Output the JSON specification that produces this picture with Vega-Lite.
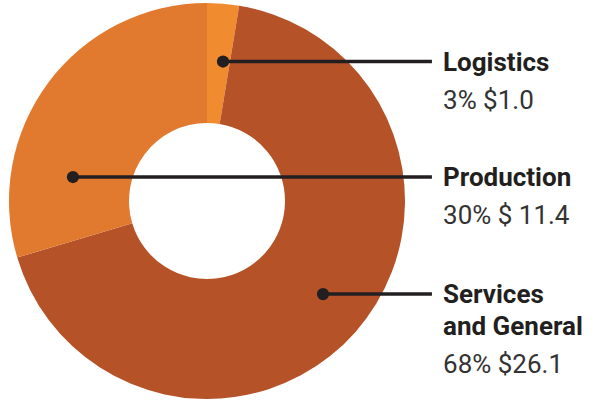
{
  "$schema": "https://vega.github.io/schema/vega-lite/v6.json",
  "width": 597,
  "height": 403,
  "autosize": {"type": "fit", "contains": "padding"},
  "padding": 0,
  "background": "white",
  "view": {"stroke": null},
  "config": {"font": "Roboto"},
  "data": {
    "values": [
      {"category": "Logistics", "name": ["Logistics"], "amount": 1.0, "label": "3% $1.0", "order": 1, "anchor_x": 0.081, "anchor_y": 0.7045},
      {"category": "Services and General", "name": ["Services", "and General"], "amount": 26.1, "label": "68% $26.1", "order": 2, "anchor_x": 0.586, "anchor_y": -0.47},
      {"category": "Production", "name": ["Production"], "amount": 11.4, "label": "30% $ 11.4", "order": 3, "anchor_x": -0.677, "anchor_y": 0.121}
    ]
  },
  "encoding": {
    "x": {"type": "quantitative", "scale": {"domain": [-1.04545, 1.9697], "nice": false, "zero": false}, "axis": null},
    "y": {"type": "quantitative", "scale": {"domain": [-1.0202, 1.01515], "nice": false, "zero": false}, "axis": null}
  },
  "layer": [
    {
      "mark": {"type": "arc", "outerRadius": 198, "innerRadius": 78},
      "encoding": {
        "x": {"datum": 0, "type": "quantitative"},
        "y": {"datum": 0, "type": "quantitative"},
        "theta": {"field": "amount", "type": "quantitative", "stack": true},
        "order": {"field": "order", "type": "quantitative"},
        "color": {
          "field": "category", "type": "nominal", "legend": null,
          "scale": {"domain": ["Logistics", "Services and General", "Production"], "range": ["#F18B30", "#B65228", "#E17A2F"]}
        }
      }
    },
    {
      "mark": {"type": "rule", "color": "#231F20", "strokeWidth": 3.5},
      "encoding": {
        "x": {"field": "anchor_x", "type": "quantitative"},
        "x2": {"datum": 1.136},
        "y": {"field": "anchor_y", "type": "quantitative"}
      }
    },
    {
      "mark": {"type": "point", "filled": true, "color": "#231F20", "size": 150, "opacity": 1},
      "encoding": {
        "x": {"field": "anchor_x", "type": "quantitative"},
        "y": {"field": "anchor_y", "type": "quantitative"}
      }
    },
    {
      "mark": {"type": "text", "align": "left", "baseline": "alphabetic", "dy": 9, "fontSize": 26, "fontWeight": "bold", "color": "#231F20", "lineHeight": 32},
      "encoding": {
        "x": {"datum": 1.192, "type": "quantitative"},
        "y": {"field": "anchor_y", "type": "quantitative"},
        "text": {"field": "name"}
      }
    },
    {
      "transform": [{"filter": "datum.category != 'Services and General'"}],
      "mark": {"type": "text", "align": "left", "baseline": "alphabetic", "dy": 47, "fontSize": 26, "fontWeight": "normal", "color": "#333333"},
      "encoding": {
        "x": {"datum": 1.192, "type": "quantitative"},
        "y": {"field": "anchor_y", "type": "quantitative"},
        "text": {"field": "label"}
      }
    },
    {
      "transform": [{"filter": "datum.category == 'Services and General'"}],
      "mark": {"type": "text", "align": "left", "baseline": "alphabetic", "dy": 79, "fontSize": 26, "fontWeight": "normal", "color": "#333333"},
      "encoding": {
        "x": {"datum": 1.192, "type": "quantitative"},
        "y": {"field": "anchor_y", "type": "quantitative"},
        "text": {"field": "label"}
      }
    }
  ]
}
